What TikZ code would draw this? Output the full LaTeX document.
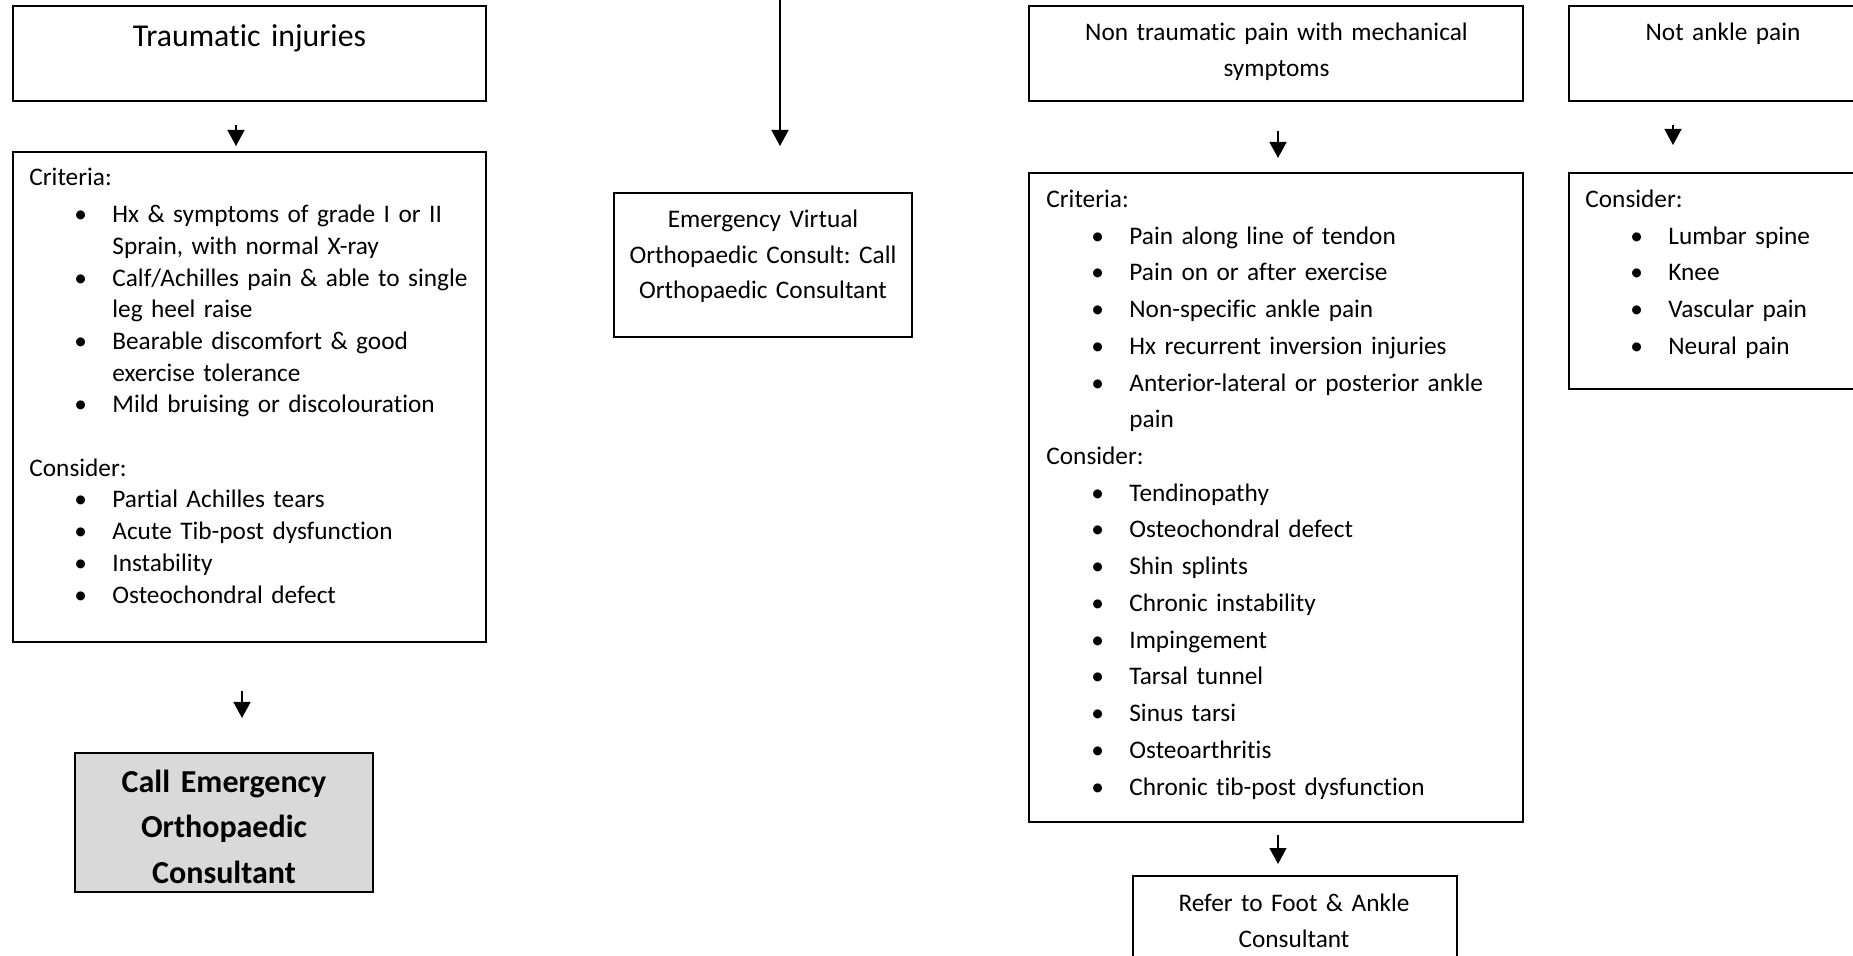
\documentclass[tikz,border=0pt]{standalone}
\usepackage{fontspec}
\setmainfont{Carlito}[Ligatures=NoCommon]
\usetikzlibrary{arrows.meta,fit}
\definecolor{callgray}{HTML}{D9D9D9}
\newcommand\myb[1]{\hspace*{22.5pt}\makebox[19pt][l]{\textbullet}#1}
\newcommand\myc[1]{\hspace*{41.5pt}#1}
\frenchspacing
\tikzset{
  box/.style={draw=black, line width=0.6pt, inner sep=0pt},
  arr/.style={-{Triangle[length=8pt,width=8.5pt]}, line width=0.7pt},
  txt/.style={inner sep=0pt, anchor=base west, align=left, text width=400pt},
  ctxt/.style={inner sep=0pt, anchor=base, align=center, text width=240pt},
  body/.style={font=\fontsize{12.65}{#1}\selectfont\frenchspacing}
}
\begin{document}
\begin{tikzpicture}[x=0.5pt,y=-0.5pt]
\useasboundingbox (0,0) rectangle (1853,956);

% ---- left column
\node[box, fit={(13,6)(486,101)}] (trauma) {};
\node[ctxt, font=\fontsize{15.9}{19}\selectfont] (traumaT) at (249.5,47) {Traumatic injuries};
\node[box, fit={(13,152)(486,642)}] (tcrit) {};
\node[txt, body=15.85pt] (tcritT) at (29,186) {Criteria:\\[2.5pt]
\myb{Hx \& symptoms of grade I or II}\\
\myc{Sprain, with normal X-ray}\\
\myb{Calf/Achilles pain \& able to single}\\
\myc{leg heel raise}\\
\myb{Bearable discomfort \& good}\\
\myc{exercise tolerance}\\
\myb{Mild bruising or discolouration}\\[15.85pt]
Consider:\\
\myb{Partial Achilles tears}\\
\myb{Acute Tib-post dysfunction}\\
\myb{Instability}\\
\myb{Osteochondral defect}};
\node[box, fill=callgray, fit={(75,753)(373,892)}] (call) {};
\node[ctxt, font=\fontsize{16}{22.75}\selectfont\bfseries] (callT) at (224,792) {Call Emergency\\Orthopaedic\\Consultant};

\coordinate (a1s) at (236,125); \coordinate (a1e) at (236,146);
\draw[arr] (a1s) -- (a1e);
\coordinate (a2s) at (242,691); \coordinate (a2e) at (242,718);
\draw[arr] (a2s) -- (a2e);

% ---- middle
\coordinate (evtop) at (780,-4); \coordinate (eve) at (780,146);
\draw[arr] (evtop) -- (eve);
\node[box, fit={(614,193)(912,337)}] (ev) {};
\node[ctxt, body=17.75pt] (evT) at (763,228) {Emergency Virtual\\Orthopaedic Consult: Call\\Orthopaedic Consultant};

% ---- right column
\node[box, fit={(1029,6)(1523,101)}] (nt) {};
\node[ctxt, body=18pt] (ntT) at (1276.5,41) {Non traumatic pain with mechanical\\symptoms};
\node[box, fit={(1029,173)(1523,822)}] (ntc) {};
\node[txt, body=18.36pt] (ntcT) at (1046,207.5) {Criteria:\\
\myb{Pain along line of tendon}\\
\myb{Pain on or after exercise}\\
\myb{Non-specific ankle pain}\\
\myb{Hx recurrent inversion injuries}\\
\myb{Anterior-lateral or posterior ankle}\\
\myc{pain}\\
Consider:\\
\myb{Tendinopathy}\\
\myb{Osteochondral defect}\\
\myb{Shin splints}\\
\myb{Chronic instability}\\
\myb{Impingement}\\
\myb{Tarsal tunnel}\\
\myb{Sinus tarsi}\\
\myb{Osteoarthritis}\\
\myb{Chronic tib-post dysfunction}};
\node[box, fit={(1133,876)(1457,990)}] (ref) {};
\node[ctxt, body=18.3pt] (refT) at (1294,911) {Refer to Foot \& Ankle\\Consultant};

\coordinate (a3s) at (1278,131); \coordinate (a3e) at (1278,158);
\draw[arr] (a3s) -- (a3e);
\coordinate (a5s) at (1278,835); \coordinate (a5e) at (1278,864);
\draw[arr] (a5s) -- (a5e);

% ---- far right
\node[box, fit={(1569,6)(1880,101)}] (na) {};
\node[ctxt, body=18pt] (naT) at (1723,41) {Not ankle pain};
\node[box, fit={(1569,173)(1880,389)}] (nac) {};
\node[txt, body=18.375pt] (nacT) at (1585,207.5) {Consider:\\
\myb{Lumbar spine}\\
\myb{Knee}\\
\myb{Vascular pain}\\
\myb{Neural pain}};
\coordinate (a4s) at (1673,125); \coordinate (a4e) at (1673,145);
\draw[arr] (a4s) -- (a4e);
\end{tikzpicture}
\end{document}
